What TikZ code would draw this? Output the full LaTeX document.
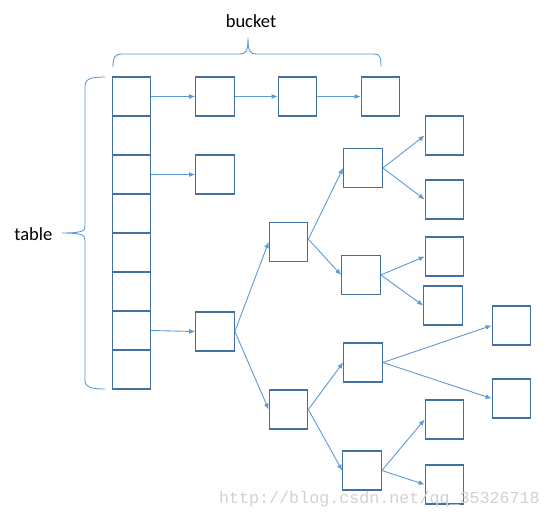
\documentclass[tikz,border=0pt]{standalone}
\usepackage{fontspec}
\setmainfont{Carlito}
\newfontfamily\wmfont{Liberation Mono}
\usepackage{tikz}
\usetikzlibrary{arrows.meta}
\tikzset{>={Latex[length=6,width=5]}}
\usepackage{xcolor}
\definecolor{boxblue}{HTML}{41719C}
\definecolor{linkblue}{HTML}{5B9BD5}
\colorlet{wmgray}{black!18}

\begin{document}
\begin{tikzpicture}[x=1pt,y=-1pt,
    link/.style={->,linkblue,line width=0.9pt},
    cell/.style={draw=boxblue,line width=1.2pt,inner sep=0,minimum width=37.5,minimum height=39},
    entry/.style={cell,minimum width=38.5,minimum height=39}]
    \useasboundingbox (0,0) rectangle (552,519);

    % table
    \node[cell] (T1) at (131.5,96.5) {};
    \node[cell] (T2) at (131.5,135.5) {};
    \node[cell] (T3) at (131.5,174.5) {};
    \node[cell] (T4) at (131.5,213.5) {};
    \node[cell] (T5) at (131.5,252.5) {};
    \node[cell] (T6) at (131.5,291.5) {};
    \node[cell] (T7) at (131.5,330.5) {};
    \node[cell] (T8) at (131.5,369.5) {};

    % buckets
    \node[entry] (A) at (215,96.5) {};
    \node[entry] (B) at (297.5,96.5) {};
    \node[entry] (C) at (380.5,96.5) {};
    \node[entry] (D) at (215,174.5) {};

    % tree
    \node[entry] (R) at (215,331.5) {};
    \node[entry] (U) at (288.5,242) {};
    \node[entry] (W) at (288.5,409.5) {};
    \node[entry] (UA) at (363,168) {};
    \node[entry] (UB) at (361,275) {};
    \node[entry] (UA1) at (444.5,135.5) {};
    \node[entry] (UA2) at (444.5,199.5) {};
    \node[entry] (UB1) at (444.5,256.5) {};
    \node[entry] (UB2) at (443,305.5) {};
    \node[entry] (WA) at (363,362.5) {};
    \node[entry] (WB) at (362,470.5) {};
    \node[entry] (WA1) at (511.5,325.5) {};
    \node[entry] (WA2) at (511.5,398.5) {};
    \node[entry] (WB1) at (444.5,419.5) {};
    \node[entry] (WB2) at (444.5,484.5) {};

    \draw[link] (T1.east) -- (A.west);
    \draw[link] (A.east) -- (B.west);
    \draw[link] (B.east) -- (C.west);
    \draw[link] (T3.east) -- (D.west);
    \draw[link] (T7.east) -- (R.west);

    \draw[link] (R.east) -- (U.west);
    \draw[link] (R.east) -- (W.west);
    \draw[link] (U.8) -- (UA.west);
    \draw[link] (U.8) -- (UB.west);
    \draw[link] (UA.east) -- (UA1.west);
    \draw[link] (UA.east) -- (UA2.west);
    \draw[link] (UB.east) -- (UB1.west);
    \draw[link] (UB.east) -- (UB2.west);
    \draw[link] (W.east) -- (WA.west);
    \draw[link] (W.east) -- (WB.west);
    \draw[link] (WA.east) -- (WA1.west);
    \draw[link] (WA.east) -- (WA2.west);
    \draw[link] (WB.east) -- (WB1.west);
    \draw[link] (WB.east) -- (WB2.west);

    % braces
    \draw[linkblue,line width=0.9pt] (113,67) .. controls (113,57) and (115,54) .. (122,54) -- (240,54)
        .. controls (246,54) and (248,51) .. (248,38) .. controls (248,51) and (250,54) .. (256,54)
        -- (374,54) .. controls (380,54) and (381,57) .. (381,67);
    \draw[linkblue,line width=0.9pt] (105,77) .. controls (90,77) and (85,79) .. (85,87) -- (85,226)
        .. controls (85,231) and (82,233) .. (62,233) .. controls (82,233) and (85,235) .. (85,240)
        -- (85,380) .. controls (85,387) and (90,389) .. (105,389);

    \node[font=\fontsize{18.5}{22}\selectfont,inner sep=0] (bucket) at (251,21) {bucket};
    \node[font=\fontsize{18.5}{22}\selectfont,inner sep=0,anchor=east] (table) at (52.5,234) {table};

    \node[font=\wmfont\fontsize{16.7}{20}\selectfont,text=wmgray,inner sep=0,anchor=east] (mark) at (540,499) {http://blog.csdn.net/qq\_35326718};
\end{tikzpicture}
\end{document}
